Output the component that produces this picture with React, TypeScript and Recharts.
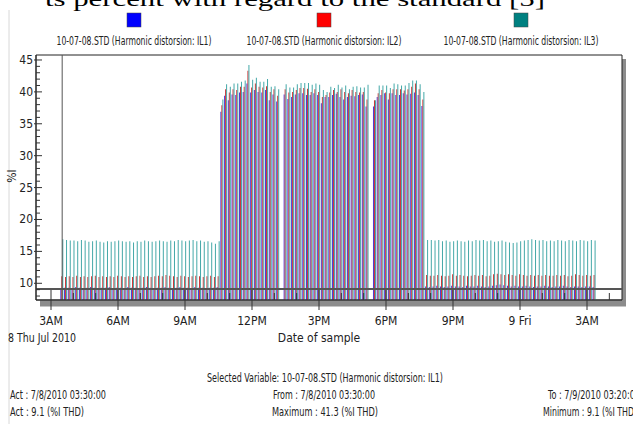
import React from 'react';
import { BarChart, Bar, XAxis, YAxis, ReferenceLine, ReferenceArea } from 'recharts';

// ---- sampling: 7/8/2010 03:30 every 10 minutes (hours since midnight Jul 8) ----
const START_HOUR = 3.5;
const STEP_HOURS = 1 / 6;

// ---- IL1 (%I THD) ----
const il1Morning = [9.1, 9.3, 9.3, 9.2, 9.4, 9.3, 9.2, 9.3, 9.4, 9.3, 9.2, 9.3, 9.3, 9.4, 9.2, 9.3, 9.3, 9.2, 9.4, 9.3, 9.3, 9.2, 9.3, 9.4, 9.3, 9.2, 9.3, 9.3, 9.4, 9.3, 9.2, 9.3, 9.4, 9.3, 9.3, 9.2, 9.4, 9.3, 9.3, 9.2, 9.3, 9.3, 9.4];
const il1Noon = [36.9, 39.4, 38.7, 39.6, 39.5, 39.9, 40.0, 41.3, 39.9, 40.3, 40.0, 39.9, 40.3, 38.7, 39.6, 38.5];
const il1Afternoon = [39.6, 38.9, 39.2, 39.6, 39.8, 39.8, 39.5, 39.5, 39.8, 39.5, 38.2, 39.2, 39.2, 39.5, 39.7, 39.2, 38.8, 39.2, 39.4, 39.3, 39.5, 39.6, 37.7];
const il1Evening = [37.7, 39.2, 39.5, 39.8, 38.8, 39.8, 39.5, 39.5, 39.8, 39.6, 39.7, 39.9, 39.5, 37.8];
const il1Night = [9.5, 9.4, 9.5, 9.6, 9.5, 9.4, 9.5, 9.6, 9.5, 9.5, 9.4, 9.6, 9.5, 9.5, 9.6, 9.5, 9.4, 9.5, 9.6, 9.7, 9.8, 9.7, 9.6, 9.5, 9.6, 9.5, 9.5, 9.6, 9.5, 9.4, 9.5, 9.5, 9.6, 9.5, 9.4, 9.5, 9.5, 9.6, 9.5, 9.4, 9.5, 9.5, 9.4, 9.5, 9.5, 9.4];

// ---- IL2 ----
const il2Morning = [11.1, 11.0, 11.1, 11.0, 11.2, 11.0, 11.1, 11.0, 11.1, 11.2, 11.0, 11.1, 11.0, 11.1, 11.0, 11.2, 11.1, 11.0, 11.1, 11.0, 11.1, 11.2, 11.0, 11.1, 11.0, 11.1, 11.2, 11.1, 11.3, 11.2, 11.1, 11.0, 11.2, 11.1, 11.0, 11.1, 11.2, 11.1, 11.0, 11.1, 11.2, 11.0, 11.1];
const il2Noon = [37.9, 40.4, 39.9, 40.4, 40.3, 40.8, 40.8, 43.3, 40.7, 41.3, 40.8, 40.7, 40.9, 40.0, 40.4, 39.4];
const il2Afternoon = [40.4, 39.9, 40.0, 40.3, 40.6, 40.6, 40.5, 40.0, 40.4, 40.0, 39.2, 39.5, 39.9, 40.3, 40.0, 40.4, 40.0, 39.8, 40.3, 40.0, 39.9, 40.0, 38.8];
const il2Evening = [38.7, 39.8, 40.3, 39.9, 39.8, 40.4, 40.4, 40.4, 40.2, 40.4, 40.8, 41.3, 40.4, 38.8];
const il2Night = [11.3, 11.2, 11.2, 11.3, 11.2, 11.1, 11.2, 11.4, 11.2, 11.3, 11.2, 11.1, 11.2, 11.3, 11.2, 11.3, 11.1, 11.2, 11.4, 11.5, 11.4, 11.3, 11.4, 11.3, 11.2, 11.4, 11.3, 11.2, 11.3, 11.2, 11.3, 11.2, 11.3, 11.2, 11.2, 11.3, 11.2, 11.3, 11.1, 11.2, 11.4, 11.3, 11.2, 11.3, 11.2, 11.3];

// ---- IL3 ----
const il3Morning = [16.9, 16.8, 16.7, 16.7, 16.6, 16.8, 16.7, 16.5, 16.6, 16.7, 16.5, 16.4, 16.6, 16.5, 16.6, 16.7, 16.6, 16.5, 16.6, 16.4, 16.6, 16.5, 16.7, 16.6, 16.5, 16.6, 16.7, 16.6, 16.5, 16.7, 16.6, 16.8, 16.7, 16.6, 16.7, 16.8, 16.6, 16.7, 16.5, 16.6, 16.4, 16.2, 16.6];
const il3Noon = [38.8, 41.2, 40.8, 41.3, 41.3, 41.6, 41.8, 44.2, 41.9, 42.2, 41.6, 41.6, 42.0, 40.8, 40.9, 40.4];
const il3Afternoon = [41.2, 40.7, 40.7, 41.2, 41.4, 41.4, 41.4, 41.1, 41.3, 41.1, 40.3, 40.0, 40.8, 40.6, 41.1, 40.7, 41.0, 40.4, 40.8, 40.9, 40.7, 40.7, 41.1];
const il3Evening = [38.7, 41.0, 41.0, 41.0, 40.6, 41.3, 41.2, 41.0, 41.0, 41.4, 41.8, 41.8, 41.2, 40.0];
const il3Night = [16.8, 16.8, 16.7, 16.8, 16.6, 16.7, 16.5, 16.6, 16.7, 16.6, 16.5, 16.7, 16.6, 16.8, 16.7, 16.8, 16.6, 16.7, 16.5, 16.6, 16.7, 16.5, 16.4, 16.3, 16.4, 16.6, 16.7, 16.8, 16.9, 16.8, 16.7, 16.8, 16.6, 16.7, 16.6, 16.8, 16.7, 16.6, 16.8, 16.7, 16.6, 16.8, 16.7, 16.6, 16.8, 16.7];

const IL1: (number | null)[] = [...il1Morning, ...il1Noon, null, ...il1Afternoon, null, ...il1Evening, ...il1Night];
const IL2: (number | null)[] = [...il2Morning, ...il2Noon, null, ...il2Afternoon, null, ...il2Evening, ...il2Night];
const IL3: (number | null)[] = [...il3Morning, ...il3Noon, null, ...il3Afternoon, null, ...il3Evening, ...il3Night];

const data = IL1.map((v, i) => ({ t: START_HOUR + i * STEP_HOURS, il1: v, il2: IL2[i], il3: IL3[i] }));

// ---- axes ----
const X_DOMAIN: [number, number] = [2.328, 28.567];
const Y_DOMAIN: [number, number] = [7.38, 45.78];
const X_TICKS = [3, 4, 5, 6, 7, 8, 9, 10, 11, 12, 13, 14, 15, 16, 17, 18, 19, 20, 21, 22, 23, 24, 25, 26, 27, 28];
const X_TICK_LABELS: Record<number, string> = { 3: '3AM', 6: '6AM', 9: '9AM', 12: '12PM', 15: '3PM', 18: '6PM', 21: '9PM', 24: '9 Fri', 27: '3AM' };
const Y_TICKS = [8, 9, 10, 11, 12, 13, 14, 15, 16, 17, 18, 19, 20, 21, 22, 23, 24, 25, 26, 27, 28, 29, 30, 31, 32, 33, 34, 35, 36, 37, 38, 39, 40, 41, 42, 43, 44, 45];
const CURSOR_TIME = 3.5;
const CURSOR_VALUE = 9.1;

const SERIES = [
  { key: 'il1', name: '10-07-08.STD (Harmonic distorsion: IL1)', legend: '#0000ff', bar: '#4a3ad8' },
  { key: 'il2', name: '10-07-08.STD (Harmonic distorsion: IL2)', legend: '#ff0000', bar: '#cc3434' },
  { key: 'il3', name: '10-07-08.STD (Harmonic distorsion: IL3)', legend: '#008080', bar: '#44a8a8' },
];

const DATE_LABEL = '8 Thu Jul 2010';
const X_TITLE = 'Date of sample';
const Y_TITLE = '%I';
const TOP_TEXT = 'ts percent with regard to the standard [5]';
const SELECTED = 'Selected Variable: 10-07-08.STD (Harmonic distorsion: IL1)';
const INFO_LEFT = ['Act : 7/8/2010 03:30:00', 'Act : 9.1 (%I THD)'];
const INFO_MID = ['From : 7/8/2010 03:30:00', 'Maximum : 41.3 (%I THD)'];
const INFO_RIGHT = ['To : 7/9/2010 03:20:00', 'Minimum : 9.1 (%I THD)'];

const FONT = "'Liberation Sans Narrow', 'Arial Narrow', 'DejaVu Sans Condensed', sans-serif";
const TXT = '#222';

const XTick = (props: any) => {
  const { x, y, payload } = props;
  const label = X_TICK_LABELS[payload.value];
  if (label === undefined) {
    return <line x1={x} x2={x} y1={y - 7} y2={y} stroke="#333" strokeWidth={1} />;
  }
  return (
    <g>
      <line x1={x} x2={x} y1={y - 10} y2={y + 10} stroke="#333" strokeWidth={1} />
      <text x={x} y={y + 25} textAnchor="middle" fontFamily={FONT} fontSize={12} fill={TXT}>{label}</text>
    </g>
  );
};

const YTick = (props: any) => {
  const { x, y, payload } = props;
  const major = payload.value % 5 === 0;
  if (!major) {
    return <line x1={x} x2={x + 4} y1={y} y2={y} stroke="#333" strokeWidth={1} />;
  }
  return (
    <g>
      <line x1={x - 2} x2={x + 6} y1={y} y2={y} stroke="#333" strokeWidth={1} />
      <text x={x - 3} y={y + 4} textAnchor="end" fontFamily={FONT} fontSize={12} fill={TXT}>{payload.value}</text>
    </g>
  );
};

export default function App() {
  return (
    <div style={{ position: 'absolute', left: 0, top: 0, width: 633, height: 424, background: '#fff', overflow: 'hidden' }}>
      <svg width={633} height={424} style={{ position: 'absolute', left: 0, top: 0 }}>
        <line x1={9} x2={9} y1={10} y2={424} stroke="#d8d8d8" />
        <rect x={40} y={300.5} width={586} height={6} fill="#8c8c8c" />
        <rect x={622} y={59} width={4} height={247} fill="#8c8c8c" />
      </svg>
      <div style={{ position: 'absolute', left: 0, top: 0 }}>
        <BarChart width={633} height={424} data={data} margin={{ top: 55, right: 11, bottom: 94, left: 0 }} barGap={0}>
          <XAxis
            dataKey="t"
            type="number"
            domain={X_DOMAIN}
            allowDataOverflow
            ticks={X_TICKS}
            interval={0}
            height={30}
            tickSize={0}
            tickMargin={0}
            tickLine={false}
            tick={<XTick />}
            axisLine={{ stroke: '#222' }}
          />
          <YAxis
            type="number"
            domain={Y_DOMAIN}
            allowDataOverflow
            ticks={Y_TICKS}
            interval={0}
            width={36}
            tickSize={0}
            tickMargin={0}
            tickLine={false}
            tick={<YTick />}
            axisLine={{ stroke: '#222' }}
          />
          <ReferenceArea x1={X_DOMAIN[0]} x2={X_DOMAIN[1]} y1={Y_DOMAIN[0]} y2={Y_DOMAIN[1]} fill="none" stroke="#222" strokeWidth={1} fillOpacity={0} />
          {SERIES.map((s) => (
            <Bar key={s.key} dataKey={s.key} fill={s.bar} barSize={1} isAnimationActive={false} />
          ))}
          <ReferenceLine x={CURSOR_TIME} stroke="#555" strokeWidth={1} />
          <ReferenceLine y={CURSOR_VALUE} stroke="#555" strokeWidth={2} />
        </BarChart>
      </div>
      <svg width={633} height={424} style={{ position: 'absolute', left: 0, top: 0, pointerEvents: 'none' }}>
        <text x={45} y={6} fontFamily="'Liberation Serif', serif" fontSize={22} fill="#000" textLength={500} lengthAdjust="spacingAndGlyphs">{TOP_TEXT}</text>
        {SERIES.map((s, i) => {
          const cx = [134, 324, 521][i];
          return (
            <g key={s.key}>
              <rect x={cx - 7} y={13} width={14} height={14} fill={s.legend} stroke="#444" strokeWidth={0.5} />
              <text x={cx} y={45} textAnchor="middle" fontFamily={FONT} fontSize={12} fill={TXT} textLength={155} lengthAdjust="spacingAndGlyphs">{s.name}</text>
            </g>
          );
        })}
        <text x={16} y={176} transform="rotate(-90 16 176)" textAnchor="middle" fontFamily={FONT} fontSize={12} fill={TXT}>{Y_TITLE}</text>
        <text x={8} y={342} fontFamily={FONT} fontSize={12} fill={TXT} textLength={68} lengthAdjust="spacingAndGlyphs">{DATE_LABEL}</text>
        <text x={319} y={342} textAnchor="middle" fontFamily={FONT} fontSize={12} fill={TXT}>{X_TITLE}</text>
        <text x={207} y={382} fontFamily={FONT} fontSize={12} fill={TXT} textLength={236} lengthAdjust="spacingAndGlyphs">{SELECTED}</text>
        <text x={10} y={399} fontFamily={FONT} fontSize={12} fill={TXT} textLength={96} lengthAdjust="spacingAndGlyphs">{INFO_LEFT[0]}</text>
        <text x={10} y={416} fontFamily={FONT} fontSize={12} fill={TXT} textLength={74} lengthAdjust="spacingAndGlyphs">{INFO_LEFT[1]}</text>
        <text x={273} y={399} fontFamily={FONT} fontSize={12} fill={TXT} textLength={102} lengthAdjust="spacingAndGlyphs">{INFO_MID[0]}</text>
        <text x={272} y={416} fontFamily={FONT} fontSize={12} fill={TXT} textLength={106} lengthAdjust="spacingAndGlyphs">{INFO_MID[1]}</text>
        <text x={548} y={399} fontFamily={FONT} fontSize={12} fill={TXT} textLength={92} lengthAdjust="spacingAndGlyphs">{INFO_RIGHT[0]}</text>
        <text x={543} y={416} fontFamily={FONT} fontSize={12} fill={TXT} textLength={94} lengthAdjust="spacingAndGlyphs">{INFO_RIGHT[1]}</text>
      </svg>
    </div>
  );
}
